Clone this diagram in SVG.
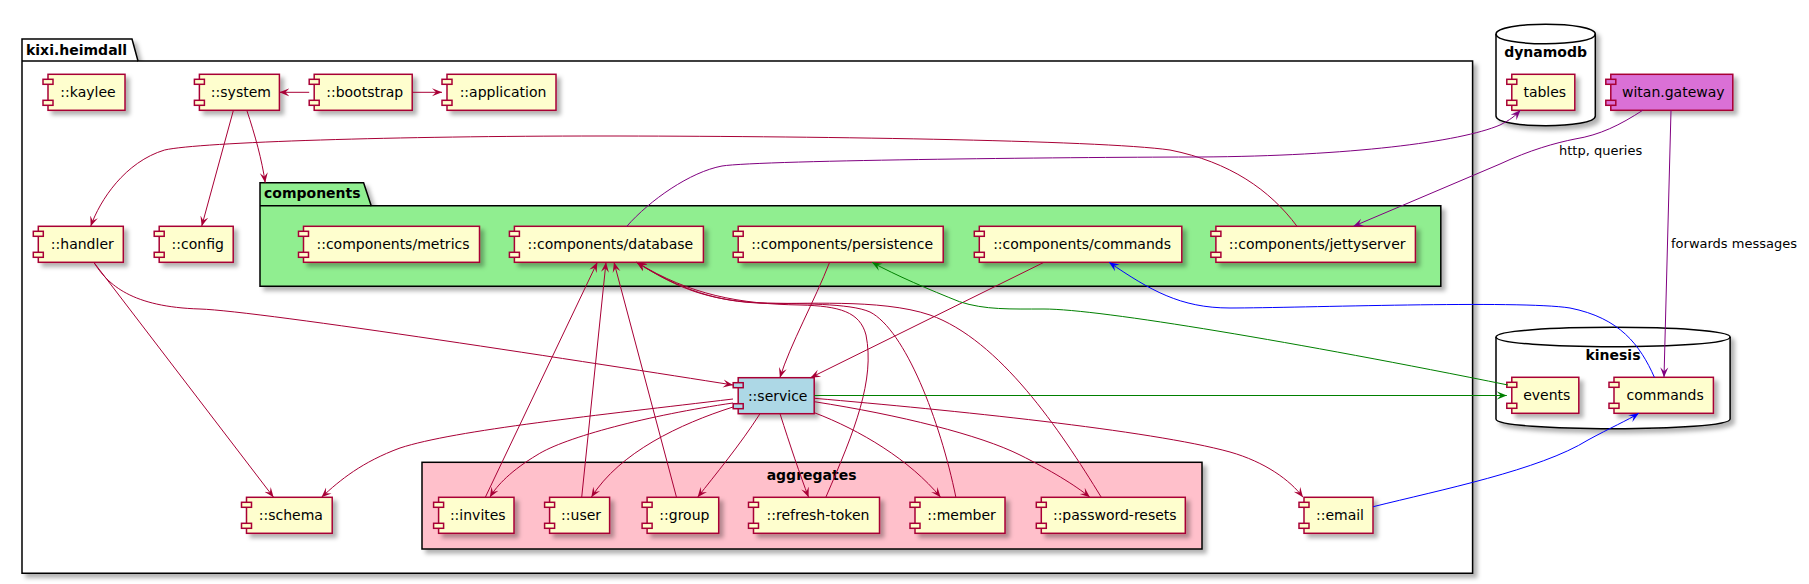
<svg xmlns="http://www.w3.org/2000/svg" width="1809" height="584" viewBox="0 0 1809 584">
<style>
text{font-family:"DejaVu Sans","Liberation Sans",sans-serif;font-size:14px;fill:#000}
.b{font-weight:bold}
.lbl{font-size:13px}
.body{fill:#FEFECE;stroke:#A80036;stroke-width:1.5}
.port{fill:#FEFECE;stroke:#A80036;stroke-width:1.5}
.svc .body,.svc .port{fill:#ADD8E6}
.wg .body,.wg .port{fill:#DA70D6}
.pkg{stroke:#000;stroke-width:1.5}
.e{fill:none;stroke-width:1}
.r{stroke:#A80036}
.p{stroke:#800080}
.g{stroke:#008000}
.bl{stroke:#0000FF}
</style>
<defs>
<filter id="sh" x="-10%" y="-10%" width="130%" height="140%">
<feDropShadow dx="4" dy="4" stdDeviation="2" flood-color="#000" flood-opacity="0.3"/>
</filter>
<marker id="ar" markerUnits="userSpaceOnUse" markerWidth="12" markerHeight="10" refX="10" refY="5" orient="auto" viewBox="0 0 12 10"><path d="M0,1 L10,5 L0,9 L4,5 Z" fill="#A80036"/></marker>
<marker id="ap" markerUnits="userSpaceOnUse" markerWidth="12" markerHeight="10" refX="10" refY="5" orient="auto" viewBox="0 0 12 10"><path d="M0,1 L10,5 L0,9 L4,5 Z" fill="#800080"/></marker>
<marker id="ag" markerUnits="userSpaceOnUse" markerWidth="12" markerHeight="10" refX="10" refY="5" orient="auto" viewBox="0 0 12 10"><path d="M0,1 L10,5 L0,9 L4,5 Z" fill="#008000"/></marker>
<marker id="ab" markerUnits="userSpaceOnUse" markerWidth="12" markerHeight="10" refX="10" refY="5" orient="auto" viewBox="0 0 12 10"><path d="M0,1 L10,5 L0,9 L4,5 Z" fill="#0000FF"/></marker>
</defs>

<!-- packages / containers -->
<g id="pkg-kixi-heimdall">
<path class="pkg" d="M22,39 H132 L138,61 H1472.6 V573.3 H22 Z" fill="#FFFFFF" filter="url(#sh)"/>
<path class="pkg" d="M22,61 H138" fill="none"/>
<text class="b" x="26" y="55">kixi.heimdall</text>
</g>
<g id="pkg-components">
<path class="pkg" d="M260,182.7 H363.6 L371.2,205.7 H1440.8 V286.3 H260 Z" fill="#90EE90" filter="url(#sh)"/>
<path class="pkg" d="M260,205.7 H371.2" fill="none"/>
<text class="b" x="264" y="198">components</text>
</g>
<g id="pkg-aggregates">
<rect class="pkg" x="422" y="462.3" width="780" height="86.7" fill="#FFC0CB" filter="url(#sh)"/>
<text class="b" x="811.6" y="480" text-anchor="middle">aggregates</text>
</g>
<g id="db-dynamodb">
<path class="pkg" d="M1496,34 C1496,21 1595.3,21 1595.3,34 V116 C1595.3,129 1496,129 1496,116 Z" fill="#FFFFFF" filter="url(#sh)"/>
<path class="pkg" d="M1496,34 C1496,47 1595.3,47 1595.3,34" fill="none"/>
<text class="b" x="1545.6" y="57" text-anchor="middle">dynamodb</text>
</g>
<g id="db-kinesis">
<path class="pkg" d="M1496,337 C1496,324 1730.1,324 1730.1,337 V419 C1730.1,432 1496,432 1496,419 Z" fill="#FFFFFF" filter="url(#sh)"/>
<path class="pkg" d="M1496,337 C1496,350 1730.1,350 1730.1,337" fill="none"/>
<text class="b" x="1613" y="360" text-anchor="middle">kinesis</text>
</g>

<!-- nodes -->
<g id="n-kaylee" transform="translate(43,74.3)"><rect class="body" x="5" y="0" width="77" height="36" filter="url(#sh)"/><rect class="port" x="0" y="5" width="10" height="5"/><rect class="port" x="0" y="26" width="10" height="5"/><text x="45" y="23" text-anchor="middle">::kaylee</text></g>
<g id="n-system" transform="translate(194.4,74.3)"><rect class="body" x="5" y="0" width="80" height="36" filter="url(#sh)"/><rect class="port" x="0" y="5" width="10" height="5"/><rect class="port" x="0" y="26" width="10" height="5"/><text x="46.5" y="23" text-anchor="middle">::system</text></g>
<g id="n-bootstrap" transform="translate(309.2,74.3)"><rect class="body" x="5" y="0" width="98" height="36" filter="url(#sh)"/><rect class="port" x="0" y="5" width="10" height="5"/><rect class="port" x="0" y="26" width="10" height="5"/><text x="55.5" y="23" text-anchor="middle">::bootstrap</text></g>
<g id="n-application" transform="translate(442,74.3)"><rect class="body" x="5" y="0" width="109" height="36" filter="url(#sh)"/><rect class="port" x="0" y="5" width="10" height="5"/><rect class="port" x="0" y="26" width="10" height="5"/><text x="61" y="23" text-anchor="middle">::application</text></g>
<g id="n-handler" transform="translate(33.3,226.3)"><rect class="body" x="5" y="0" width="85" height="36" filter="url(#sh)"/><rect class="port" x="0" y="5" width="10" height="5"/><rect class="port" x="0" y="26" width="10" height="5"/><text x="49" y="23" text-anchor="middle">::handler</text></g>
<g id="n-config" transform="translate(154.2,226.3)"><rect class="body" x="5" y="0" width="74" height="36" filter="url(#sh)"/><rect class="port" x="0" y="5" width="10" height="5"/><rect class="port" x="0" y="26" width="10" height="5"/><text x="43.5" y="23" text-anchor="middle">::config</text></g>
<g id="n-metrics" transform="translate(298.5,226.3)"><rect class="body" x="5" y="0" width="176" height="36" filter="url(#sh)"/><rect class="port" x="0" y="5" width="10" height="5"/><rect class="port" x="0" y="26" width="10" height="5"/><text x="94.5" y="23" text-anchor="middle">::components/metrics</text></g>
<g id="n-database" transform="translate(509.4,226.3)"><rect class="body" x="5" y="0" width="189" height="36" filter="url(#sh)"/><rect class="port" x="0" y="5" width="10" height="5"/><rect class="port" x="0" y="26" width="10" height="5"/><text x="101" y="23" text-anchor="middle">::components/database</text></g>
<g id="n-persistence" transform="translate(733.2,226.3)"><rect class="body" x="5" y="0" width="205" height="36" filter="url(#sh)"/><rect class="port" x="0" y="5" width="10" height="5"/><rect class="port" x="0" y="26" width="10" height="5"/><text x="109" y="23" text-anchor="middle">::components/persistence</text></g>
<g id="n-comp-commands" transform="translate(974.3,226.3)"><rect class="body" x="5" y="0" width="202.5" height="36" filter="url(#sh)"/><rect class="port" x="0" y="5" width="10" height="5"/><rect class="port" x="0" y="26" width="10" height="5"/><text x="107.75" y="23" text-anchor="middle">::components/commands</text></g>
<g id="n-jettyserver" transform="translate(1210.9,226.3)"><rect class="body" x="5" y="0" width="199.5" height="36" filter="url(#sh)"/><rect class="port" x="0" y="5" width="10" height="5"/><rect class="port" x="0" y="26" width="10" height="5"/><text x="106.25" y="23" text-anchor="middle">::components/jettyserver</text></g>
<g id="n-tables" transform="translate(1506.8,74.3)"><rect class="body" x="5" y="0" width="63" height="36" filter="url(#sh)"/><rect class="port" x="0" y="5" width="10" height="5"/><rect class="port" x="0" y="26" width="10" height="5"/><text x="38" y="23" text-anchor="middle">tables</text></g>
<g id="n-witan-gateway" class="wg" transform="translate(1605.8,74.3)"><rect class="body" x="5" y="0" width="122" height="36" filter="url(#sh)"/><rect class="port" x="0" y="5" width="10" height="5"/><rect class="port" x="0" y="26" width="10" height="5"/><text x="67.5" y="23" text-anchor="middle">witan.gateway</text></g>
<g id="n-service" class="svc" transform="translate(733.2,377.7)"><rect class="body" x="5" y="0" width="76" height="36" filter="url(#sh)"/><rect class="port" x="0" y="5" width="10" height="5"/><rect class="port" x="0" y="26" width="10" height="5"/><text x="44.5" y="23" text-anchor="middle">::service</text></g>
<g id="n-schema" transform="translate(241.5,497.3)"><rect class="body" x="5" y="0" width="85.7" height="36" filter="url(#sh)"/><rect class="port" x="0" y="5" width="10" height="5"/><rect class="port" x="0" y="26" width="10" height="5"/><text x="49.35" y="23" text-anchor="middle">::schema</text></g>
<g id="n-invites" transform="translate(433.6,497.3)"><rect class="body" x="5" y="0" width="75.4" height="36" filter="url(#sh)"/><rect class="port" x="0" y="5" width="10" height="5"/><rect class="port" x="0" y="26" width="10" height="5"/><text x="44.2" y="23" text-anchor="middle">::invites</text></g>
<g id="n-user" transform="translate(544.6,497.3)"><rect class="body" x="5" y="0" width="60" height="36" filter="url(#sh)"/><rect class="port" x="0" y="5" width="10" height="5"/><rect class="port" x="0" y="26" width="10" height="5"/><text x="36.5" y="23" text-anchor="middle">::user</text></g>
<g id="n-group" transform="translate(642.1,497.3)"><rect class="body" x="5" y="0" width="71.6" height="36" filter="url(#sh)"/><rect class="port" x="0" y="5" width="10" height="5"/><rect class="port" x="0" y="26" width="10" height="5"/><text x="42.3" y="23" text-anchor="middle">::group</text></g>
<g id="n-refresh-token" transform="translate(748.5,497.3)"><rect class="body" x="5" y="0" width="126" height="36" filter="url(#sh)"/><rect class="port" x="0" y="5" width="10" height="5"/><rect class="port" x="0" y="26" width="10" height="5"/><text x="69.5" y="23" text-anchor="middle">::refresh-token</text></g>
<g id="n-member" transform="translate(910,497.3)"><rect class="body" x="5" y="0" width="90" height="36" filter="url(#sh)"/><rect class="port" x="0" y="5" width="10" height="5"/><rect class="port" x="0" y="26" width="10" height="5"/><text x="51.5" y="23" text-anchor="middle">::member</text></g>
<g id="n-password-resets" transform="translate(1036.3,497.3)"><rect class="body" x="5" y="0" width="144" height="36" filter="url(#sh)"/><rect class="port" x="0" y="5" width="10" height="5"/><rect class="port" x="0" y="26" width="10" height="5"/><text x="78.5" y="23" text-anchor="middle">::password-resets</text></g>
<g id="n-email" transform="translate(1299,497.3)"><rect class="body" x="5" y="0" width="69" height="36" filter="url(#sh)"/><rect class="port" x="0" y="5" width="10" height="5"/><rect class="port" x="0" y="26" width="10" height="5"/><text x="41" y="23" text-anchor="middle">::email</text></g>
<g id="n-events" transform="translate(1506.8,377.3)"><rect class="body" x="5" y="0" width="67" height="36" filter="url(#sh)"/><rect class="port" x="0" y="5" width="10" height="5"/><rect class="port" x="0" y="26" width="10" height="5"/><text x="40" y="23" text-anchor="middle">events</text></g>
<g id="n-kinesis-commands" transform="translate(1609,377.3)"><rect class="body" x="5" y="0" width="99.4" height="36" filter="url(#sh)"/><rect class="port" x="0" y="5" width="10" height="5"/><rect class="port" x="0" y="26" width="10" height="5"/><text x="56.2" y="23" text-anchor="middle">commands</text></g>

<!-- connectors -->
<g id="connectors">
<path class="e r" d="M309.2,92.3 L279.4,92.3" marker-end="url(#ar)"/>
<path class="e r" d="M412.2,92.3 L442,92.3" marker-end="url(#ar)"/>
<path class="e r" d="M233.4,110.3 L201.7,226.3" marker-end="url(#ar)"/>
<path class="e r" d="M246.8,110.3 C255,135 262,160 265.2,182.7" marker-end="url(#ar)"/>
<path class="e r" d="M1297,226.3 C1270,190 1230,162 1170,150 C1100,140 800,136 600,136 C400,136 200,142 164.6,150 C125,162 100,200 90.7,226.3" marker-end="url(#ar)"/>
<path class="e r" d="M93.8,262.3 L273.6,497.3" marker-end="url(#ar)"/>
<path class="e r" d="M93.8,262.3 C108,285 132,307 200,309 C260,311 600,364 733,385" marker-end="url(#ar)"/>
<path class="e r" d="M733,399 C600,415 455,430 400,448 C362,462 340,480 321.5,497.3" marker-end="url(#ar)"/>
<path class="e r" d="M733,403 C650,415 565,437 537,455 C512,470 497,485 489.9,497.3" marker-end="url(#ar)"/>
<path class="e r" d="M733,407 C680,424 620,452 591.3,497.3" marker-end="url(#ar)"/>
<path class="e r" d="M760,413.7 C740,445 715,475 697.6,497.3" marker-end="url(#ar)"/>
<path class="e r" d="M780,413.7 C790,445 800,475 808.6,497.3" marker-end="url(#ar)"/>
<path class="e r" d="M814.3,412.7 C860,430 910,460 940.6,497.3" marker-end="url(#ar)"/>
<path class="e r" d="M814.3,401.7 C900,415 980,435 1020,455 C1050,470 1075,485 1089.9,497.3" marker-end="url(#ar)"/>
<path class="e r" d="M814.3,398.3 C950,410 1150,430 1230,452 C1265,462 1290,480 1303,497.3" marker-end="url(#ar)"/>
<path class="e r" d="M829.6,262.3 C815,300 790,345 779.9,377.7" marker-end="url(#ar)"/>
<path class="e r" d="M1044,262.3 L810.5,377.7" marker-end="url(#ar)"/>
<path class="e r" d="M485.3,497.3 L597.3,262.3" marker-end="url(#ar)"/>
<path class="e r" d="M581.7,497.3 L606,262.3" marker-end="url(#ar)"/>
<path class="e r" d="M676.5,497.3 L614,262.3" marker-end="url(#ar)"/>
<path class="e r" d="M825.8,497.3 C855,430 875,380 866,335 C860,312 840,306 800,305 C740,304 690,295 636.7,262.3" marker-end="url(#ar)"/>
<path class="e r" d="M955.9,497.3 C940,420 905,330 870,312 C850,303 800,304 760,303 C720,302 680,290 636.7,262.3" marker-end="url(#ar)"/>
<path class="e r" d="M1101.3,497.3 C1060,430 1000,340 930,315 C880,298 800,305 760,303 C710,300 680,290 636.7,262.3" marker-end="url(#ar)"/>
<path class="e p" d="M626.8,226.3 C650,200 690,172 722,166 C760,160 1100,157 1200,157 C1350,156 1460,142 1500,125 C1510,120 1515,116 1520.4,110.3" marker-end="url(#ap)"/>
<path class="e p" d="M1642.7,110.3 C1620,125 1600,135 1575,139 C1555,143 1530,150 1500,164 L1353.4,226.3" marker-end="url(#ap)"/>
<path class="e p" d="M1671,110.3 L1664,377.3" marker-end="url(#ap)"/>
<path class="e g" d="M814.3,395.5 L1506.8,395.5" marker-end="url(#ag)"/>
<path class="e g" d="M1508,385 C1300,343 1100,309 1044,309 C1010,309 985,310 959.5,301.7 C930,290 895,275 872,262.3" marker-end="url(#ag)"/>
<path class="e bl" d="M1654.4,377.3 C1640,345 1620,318 1570,308 C1520,300 1300,308 1230,308 C1180,308 1150,290 1109,262.3" marker-end="url(#ab)"/>
<path class="e bl" d="M1373.2,506.7 C1440,490 1540,470 1588,440 C1610,428 1628,420 1638.8,413.3" marker-end="url(#ab)"/>
<text class="lbl" x="1559" y="155">http, queries</text>
<text class="lbl" x="1671" y="248">forwards messages</text>
</g>
</svg>
